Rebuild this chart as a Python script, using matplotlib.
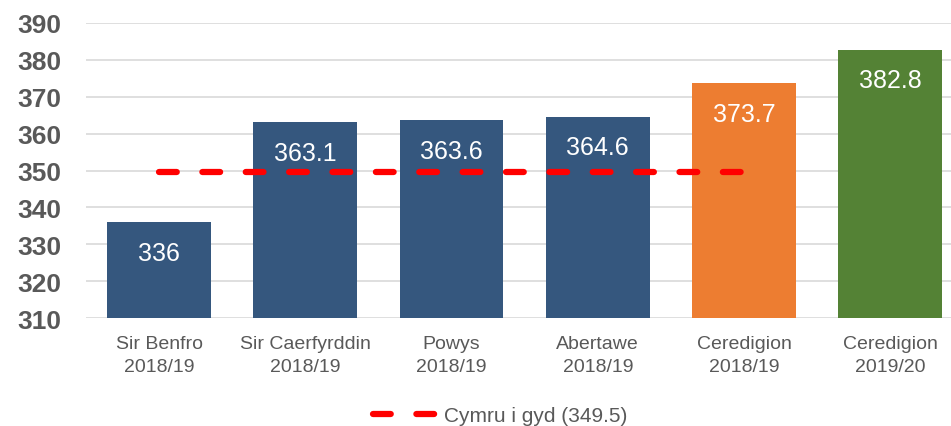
import matplotlib.pyplot as plt
import numpy as np

plt.rcParams['font.family'] = ['Liberation Sans', 'DejaVu Sans']

categories = ['Sir Benfro\n2018/19', 'Sir Caerfyrddin\n2018/19', 'Powys\n2018/19',
              'Abertawe\n2018/19', 'Ceredigion\n2018/19', 'Ceredigion\n2019/20']
values = [336, 363.1, 363.6, 364.6, 373.7, 382.8]
value_labels = ['336', '363.1', '363.6', '364.6', '373.7', '382.8']
bar_colors = ['#35577E', '#35577E', '#35577E', '#35577E', '#ED7D31', '#548235']
wales_avg = [349.5, 349.5, 349.5, 349.5, 349.5]
legend_label = 'Cymru i gyd (349.5)'

fig = plt.figure(figsize=(9.51, 4.27), dpi=100)
ax = fig.add_axes([0.0904, 0.2529, 0.9226, 0.6909])

x = np.arange(len(categories))
ax.bar(x, values, width=0.71, color=bar_colors, zorder=2)

for xi, v, lab in zip(x, values, value_labels):
    ax.annotate(lab, (xi, v), xytext=(0, -22), textcoords='offset points',
                ha='center', va='center', color='white', fontsize=18, zorder=4)

ax.plot(np.arange(len(wales_avg)), wales_avg, color='#FF0000', lw=4.5,
        linestyle=(0, (2.84, 4.1)), dash_capstyle='round', zorder=3, label=legend_label)

ax.set_ylim(310, 390)
ax.set_xlim(-0.5, 5.5)
ax.set_yticks(range(310, 391, 10))
ax.yaxis.grid(True, color='#D9D9D9', lw=1.2, zorder=0)
ax.set_axisbelow(True)
for s in ax.spines.values():
    s.set_visible(False)
ax.tick_params(axis='both', length=0)
ax.tick_params(axis='y', pad=18)
ax.tick_params(axis='x', pad=12.5)
ax.set_xticks(x)
ax.set_xticklabels(categories, fontsize=14, color='#595959', linespacing=1.42)
for t in ax.get_yticklabels():
    t.set_fontsize(19)
    t.set_fontweight('bold')
    t.set_color('#595959')

fig.legend(loc='center', bbox_to_anchor=(500 / 951, 1 - 417 / 427), frameon=False,
           fontsize=15, handlelength=3.0, labelcolor='#595959', handletextpad=0.4)

fig.savefig('out.png', dpi=100)
